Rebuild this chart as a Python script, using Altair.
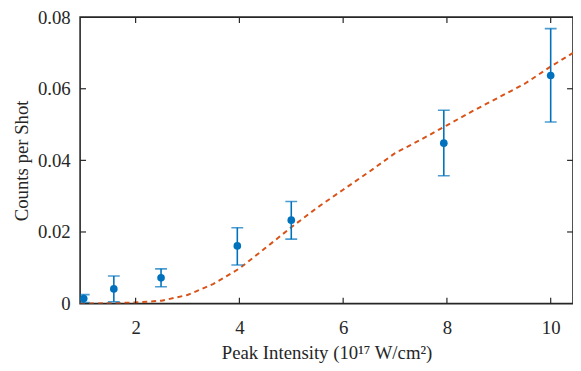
import altair as alt
import pandas as pd

# measured points
x_pts = [1.0, 1.58, 2.49, 3.96, 5.0, 7.94, 10.0]
y_pts = [0.0014, 0.0041, 0.0072, 0.0161, 0.0233, 0.0448, 0.0637]
y_lo = [0.0003, 0.0005, 0.0047, 0.0108, 0.0180, 0.0357, 0.0507]
y_hi = [0.0025, 0.0077, 0.0097, 0.0212, 0.0285, 0.0540, 0.0768]

# model curve
x_fit = [0.93, 1.5, 2.0, 2.5, 3.0, 3.5, 4.0, 4.5, 5.0, 5.5, 6.0, 6.5, 7.0, 7.5, 8.0, 8.5, 9.0, 9.5, 10.0, 10.43]
y_fit = [0.0, 0.0001, 0.0003, 0.0008, 0.0024, 0.0055, 0.0098, 0.0155, 0.0213, 0.0268, 0.0318, 0.0368, 0.0420, 0.0458, 0.0498, 0.0538, 0.0576, 0.0614, 0.0662, 0.0700]

x_ticks = [2, 4, 6, 8, 10]
y_ticks = [0, 0.02, 0.04, 0.06, 0.08]
y_inner_ticks = [0.02, 0.04, 0.06]

pts = pd.DataFrame({"x": x_pts, "y": y_pts, "lo": y_lo, "hi": y_hi})
fit = pd.DataFrame({"x": x_fit, "y": y_fit})
xt = pd.DataFrame({"x": x_ticks})
yt = pd.DataFrame({"y": y_inner_ticks})

W, H = 499, 290
FONT = "Times New Roman, Liberation Serif, DejaVu Serif, Noto Serif, serif"
INK = "#262626"
BLUE = "#0072BD"
ORANGE = "#D95319"

xs = alt.Scale(domain=[0.93, 10.43], nice=False, zero=False)
ys = alt.Scale(domain=[0, 0.08], nice=False)

xax = alt.Axis(values=x_ticks, title="Peak Intensity (10¹⁷ W/cm²)", domain=False, ticks=False,
               grid=False, labelPadding=15, titlePadding=7, format="d")
yax = alt.Axis(values=y_ticks, title="Counts per Shot", domain=False, ticks=False, grid=False,
               labelPadding=10, titlePadding=6,
               labelExpr="datum.value == 0 ? '0' : format(datum.value, '.2f')")

line = alt.Chart(fit).mark_line(color=ORANGE, strokeDash=[5, 4], strokeWidth=2, clip=True).encode(
    x=alt.X("x:Q", scale=xs, axis=xax),
    y=alt.Y("y:Q", scale=ys, axis=yax),
)

bars = alt.Chart(pts).mark_rule(color=BLUE, strokeWidth=1.6, clip=True).encode(
    x="x:Q", y="lo:Q", y2="hi:Q"
)
cap_lo = alt.Chart(pts).mark_tick(color=BLUE, size=12, thickness=1.6, orient="horizontal", clip=True).encode(
    x="x:Q", y="lo:Q"
)
cap_hi = alt.Chart(pts).mark_tick(color=BLUE, size=12, thickness=1.6, orient="horizontal", clip=True).encode(
    x="x:Q", y="hi:Q"
)
dots = alt.Chart(pts).mark_point(filled=True, color=BLUE, size=60, opacity=1, clip=True).encode(
    x="x:Q", y="y:Q"
)

tb = alt.Chart(xt).mark_rule(color=INK, strokeWidth=1.2).encode(x="x:Q", y=alt.value(H), y2=alt.value(H - 6))
tt = alt.Chart(xt).mark_rule(color=INK, strokeWidth=1.2).encode(x="x:Q", y=alt.value(0), y2=alt.value(6))
tl = alt.Chart(yt).mark_rule(color=INK, strokeWidth=1.2).encode(y="y:Q", x=alt.value(0), x2=alt.value(6))
tr = alt.Chart(yt).mark_rule(color=INK, strokeWidth=1.2).encode(y="y:Q", x=alt.value(W), x2=alt.value(W - 6))

chart = alt.layer(line, bars, cap_lo, cap_hi, dots, tb, tt, tl, tr).properties(
    width=W, height=H,
    autosize=alt.AutoSizeParams(type="none"),
    padding={"left": 73, "top": 7, "right": 0, "bottom": 66},
).configure_view(
    stroke=INK, strokeWidth=1.6
).configure_axis(
    labelFont=FONT, titleFont=FONT, labelFontSize=19, titleFontSize=19,
    labelColor=INK, titleColor=INK, titleFontWeight="normal"
)

chart.save("out.html", embed_options={"renderer": "svg", "actions": False})
